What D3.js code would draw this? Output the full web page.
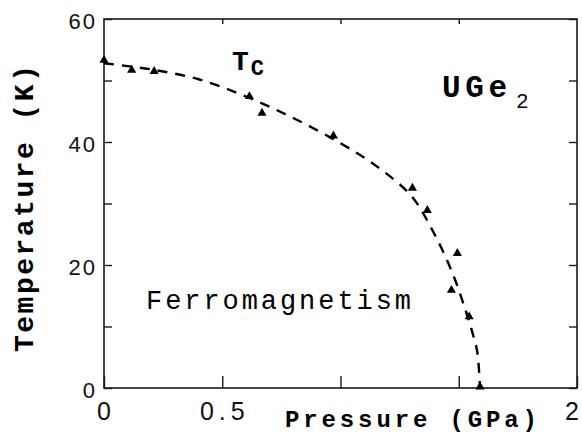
<!DOCTYPE html>
<html>
<head>
<meta charset="utf-8">
<script src="https://cdn.jsdelivr.net/npm/d3@7"></script>
<style>
  body { margin: 0; background: #fff; }
  svg { display: block; }
</style>
</head>
<body>
<svg id="chart" width="582" height="436"></svg>
<script>
'use strict';

// measured Tc points (GPa, K)
const pointsP = [0.0, 0.117, 0.212, 0.615, 0.668, 0.97, 1.304, 1.367, 1.494, 1.469, 1.544, 1.59];
const pointsT = [53.3, 51.7, 51.5, 47.4, 44.7, 41.0, 32.5, 28.9, 21.9, 15.9, 11.6, 0.2];

// dashed guide line
const curveP = [0.0, 0.2, 0.4, 0.6, 0.8, 1.0, 1.155, 1.3, 1.388, 1.47, 1.53, 1.565, 1.579, 1.59];
const curveT = [52.8, 51.8, 50.2, 47.4, 43.9, 39.8, 36.0, 31.2, 25.7, 19.0, 12.5, 8.0, 5.7, 0];

const xTicks = [0, 0.5, 1, 1.5, 2];
const xTickLabels = ['0', '0.5', '', '', ''];
const yTicks = [0, 10, 20, 30, 40, 50, 60];
const yTickLabels = ['0', '', '20', '', '40', '', '60'];

// no Courier installed: the monospace Liberation face keeps the wide letter pitch
const MONO = '"Liberation Mono", "DejaVu Sans Mono", monospace';
const SANS = '"Liberation Sans", Arial, Helvetica, sans-serif';

const svg = d3.select('#chart');

const x = d3.scaleLinear().domain([0, 2]).range([104, 577]);
const y = d3.scaleLinear().domain([0, 60]).range([388, 19]);

const axisColor = '#1a1a1a';

// frame
svg.append('rect')
  .attr('x', x(0))
  .attr('y', y(60))
  .attr('width', x(2) - x(0))
  .attr('height', y(0) - y(60))
  .attr('fill', 'none')
  .attr('stroke', axisColor)
  .attr('stroke-width', 1.6);

const styleAxis = (g) => {
  g.select('.domain').remove();
  g.selectAll('line').attr('stroke', axisColor).attr('stroke-width', 1.4);
};

// bottom axis, ticks pointing inward
svg.append('g')
  .attr('transform', `translate(0,${y(0)})`)
  .call(d3.axisBottom(x)
    .tickValues(xTicks)
    .tickSize(-12)
    .tickSizeOuter(0)
    .tickFormat((d, i) => xTickLabels[i]))
  .call(styleAxis)
  .call((g) => g.selectAll('text')
    .attr('font-family', SANS)
    .attr('y', 32)
    .attr('dy', 0)
    .attr('font-size', 25)
    .attr('letter-spacing', 5)
    .attr('dx', 2)
    .attr('fill', '#111'));

// last x tick label sits against the right edge
svg.append('text')
  .attr('font-family', SANS)
  .attr('font-size', 25)
  .attr('text-anchor', 'end')
  .attr('x', 579)
  .attr('y', 420)
  .attr('fill', '#111')
  .text('2');

// top axis, short ticks only
svg.append('g')
  .attr('transform', `translate(0,${y(60)})`)
  .call(d3.axisTop(x).tickValues([0.5, 1, 1.5]).tickSize(-5).tickSizeOuter(0).tickFormat(''))
  .call(styleAxis);

// left axis
svg.append('g')
  .attr('transform', `translate(${x(0)},0)`)
  .call(d3.axisLeft(y)
    .tickValues(yTicks)
    .tickSize(-8)
    .tickSizeOuter(0)
    .tickPadding(9)
    .tickFormat((d, i) => yTickLabels[i]))
  .call(styleAxis)
  .call((g) => g.selectAll('text')
    .attr('font-family', SANS)
    .attr('font-size', 22)
    .attr('letter-spacing', 2)
    .attr('dx', 2)
    .attr('dy', 9)
    .attr('fill', '#111'));

// right axis
svg.append('g')
  .attr('transform', `translate(${x(2)},0)`)
  .call(d3.axisRight(y).tickValues(yTicks).tickSize(-8).tickSizeOuter(0).tickFormat(''))
  .call(styleAxis);

// dashed Tc(P) line
const curveData = curveP.map((p, i) => ({ p, t: curveT[i] }));
const line = d3.line()
  .x((d) => x(d.p))
  .y((d) => y(d.t))
  .curve(d3.curveCatmullRom);

svg.append('path')
  .datum(curveData)
  .attr('d', line)
  .attr('fill', 'none')
  .attr('stroke', '#000')
  .attr('stroke-width', 2.4)
  .attr('stroke-dasharray', '10,8');

// triangles
const pointData = pointsP.map((p, i) => ({ p, t: pointsT[i] }));
svg.append('g')
  .selectAll('path')
  .data(pointData)
  .join('path')
  .attr('transform', (d) => `translate(${x(d.p)},${y(d.t)})`)
  .attr('d', d3.symbol(d3.symbolTriangle).size(36))
  .attr('fill', '#000');

// labels
const tc = svg.append('text').attr('font-family', MONO).attr('x', 232).attr('y', 70);
tc.append('tspan').attr('font-size', 28).attr('font-weight', 'bold').text('T');
tc.append('tspan').attr('font-size', 22).attr('font-weight', 'bold').attr('dx', 2).attr('dy', 5).text('C');

const uge = svg.append('text').attr('x', 442).attr('y', 97);
uge.append('tspan').attr('font-family', MONO).attr('font-size', 31).attr('font-weight', 'bold')
  .attr('textLength', 65).attr('lengthAdjust', 'spacing').text('UGe');
uge.append('tspan').attr('font-family', SANS).attr('font-size', 21).attr('dx', 5).attr('dy', 11).text('2');

svg.append('text')
  .attr('font-family', MONO)
  .attr('x', 146)
  .attr('y', 309)
  .attr('font-size', 27)
  .attr('textLength', 265)
  .attr('lengthAdjust', 'spacing')
  .text('Ferromagnetism');

svg.append('text')
  .attr('font-family', MONO)
  .attr('x', 285)
  .attr('y', 427)
  .attr('font-size', 24)
  .attr('font-weight', 'bold')
  .attr('textLength', 252)
  .attr('lengthAdjust', 'spacing')
  .text('Pressure (GPa)');

svg.append('text')
  .attr('font-family', MONO)
  .attr('transform', 'translate(33,352) rotate(-90)')
  .attr('font-size', 28)
  .attr('font-weight', 'bold')
  .attr('textLength', 287)
  .attr('lengthAdjust', 'spacing')
  .text('Temperature (K)');
</script>
</body>
</html>
